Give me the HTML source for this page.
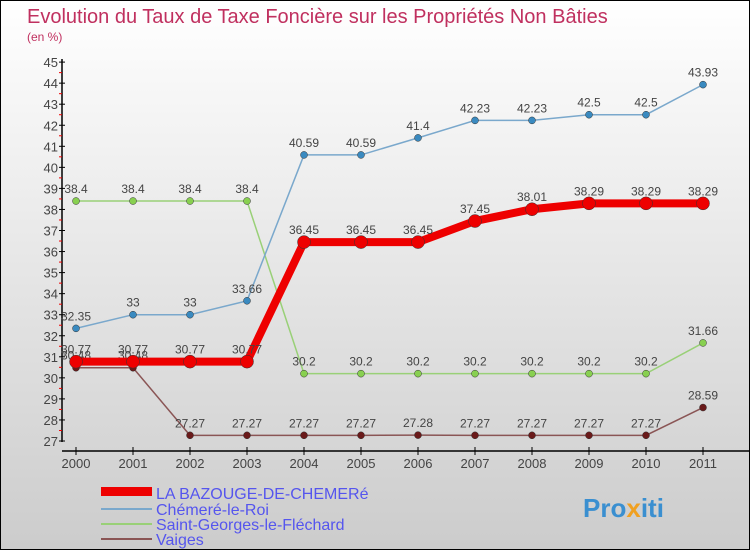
<!DOCTYPE html>
<html><head><meta charset="utf-8"><style>
body{margin:0}
#c{width:748px;height:548px;border:1px solid #000;background:linear-gradient(#fff,#ccc);position:relative;font-family:"Liberation Sans",sans-serif;overflow:hidden}
</style></head><body>
<div id="c">
<svg id="s" width="748" height="548" xmlns="http://www.w3.org/2000/svg">
<text x="26" y="22" font-size="20" fill="#c0305f">Evolution du Taux de Taxe Foncière sur les Propriétés Non Bâties</text>
<text x="26" y="40" font-size="12" fill="#c0305f">(en %)</text>
<g id="ax"></g><g id="plot"></g>
<g>
<rect x="100" y="486" width="51" height="9" fill="#e00"/>
<text x="155" y="498" font-size="16" fill="#5555ee">LA BAZOUGE-DE-CHEMERé</text>
<line x1="100" y1="508" x2="151" y2="508" stroke="#7aa8cc" stroke-width="2"/>
<text x="155" y="514" font-size="16" fill="#5555ee">Chémeré-le-Roi</text>
<line x1="100" y1="523" x2="151" y2="523" stroke="#99d077" stroke-width="2"/>
<text x="155" y="529" font-size="16" fill="#5555ee">Saint-Georges-le-Fléchard</text>
<line x1="100" y1="538" x2="151" y2="538" stroke="#8a5555" stroke-width="2"/>
<text x="155" y="544" font-size="16" fill="#5555ee">Vaiges</text>
</g>
<text x="582" y="516" font-size="26" font-weight="bold" fill="#3a8fd0">Pro<tspan fill="#f0a020">x</tspan>iti</text>
</svg></div>
<script>
const years=[2000,2001,2002,2003,2004,2005,2006,2007,2008,2009,2010,2011];
const bazouge=[30.77,30.77,30.77,30.77,36.45,36.45,36.45,37.45,38.01,38.29,38.29,38.29];
const chemere=[32.35,33,33,33.66,40.59,40.59,41.4,42.23,42.23,42.5,42.5,43.93];
const stgeorges=[38.4,38.4,38.4,38.4,30.2,30.2,30.2,30.2,30.2,30.2,30.2,31.66];
const vaiges=[30.48,30.48,27.27,27.27,27.27,27.27,27.28,27.27,27.27,27.27,27.27,28.59];
const yTicks=[27,28,29,30,31,32,33,34,35,36,37,38,39,40,41,42,43,44,45];
const NS="http://www.w3.org/2000/svg";
const xS=i=>75+i*57;
const yS=v=>440-(v-27)*21.05;
function mk(t,a,p){const e=document.createElementNS(NS,t);for(const k in a)e.setAttribute(k,a[k]);p.appendChild(e);return e;}
const ax=document.getElementById('ax');
let l=mk('line',{x1:61,y1:58,x2:61,y2:441,stroke:'#000','stroke-width':1.5},ax);


l=mk('line',{x1:61,y1:450,x2:748,y2:450,stroke:'#000','stroke-width':1.5},ax);


yTicks.forEach(v=>{
  mk('line',{x1:58,y1:yS(v),x2:64,y2:yS(v),stroke:'#000'},ax);
  if(v<45)mk('line',{x1:58,y1:yS(v+0.5),x2:61,y2:yS(v+0.5),stroke:'#e00'},ax);
  const t=mk('text',{x:57,y:yS(v)+5,'font-size':13,fill:'#444','text-anchor':'end'},ax);
  
  
  t.textContent=v;
});
years.forEach((y,i)=>{
  mk('line',{x1:xS(i),y1:446,x2:xS(i),y2:454,stroke:'#000'},ax);
  const t=mk('text',{x:xS(i),y:467,'font-size':13,fill:'#444','text-anchor':'middle'},ax);
  
  
  t.textContent=y;
});
const plot=document.getElementById('plot');
function series(vals,name,col,w,r,dot){
  const g=mk('g',{},plot);
  
  
  mk('polyline',{points:vals.map((v,i)=>xS(i)+','+yS(v)).join(' '),fill:'none',stroke:col,'stroke-width':w},g);
  vals.forEach((v,i)=>{
    const c=mk('circle',{cx:xS(i),cy:yS(v),r:r,fill:dot,stroke:'#333','stroke-width':0.5},g);
    
    
    const t=mk('text',{x:xS(i),y:yS(v)-8,'font-size':12,fill:'#444','text-anchor':'middle'},g);
    t.textContent=v;
  });
}
series(vaiges,'vaiges','#8a5555',1.5,3.5,'#6a1a1a');
series(stgeorges,'saint-georges','#99d077',1.5,3.5,'#88d050');
series(chemere,'chemere','#7aa8cc',1.5,3.5,'#3a8ac0');
series(bazouge,'bazouge','#e00',8,6.5,'#e00');
</script>
</body></html>
